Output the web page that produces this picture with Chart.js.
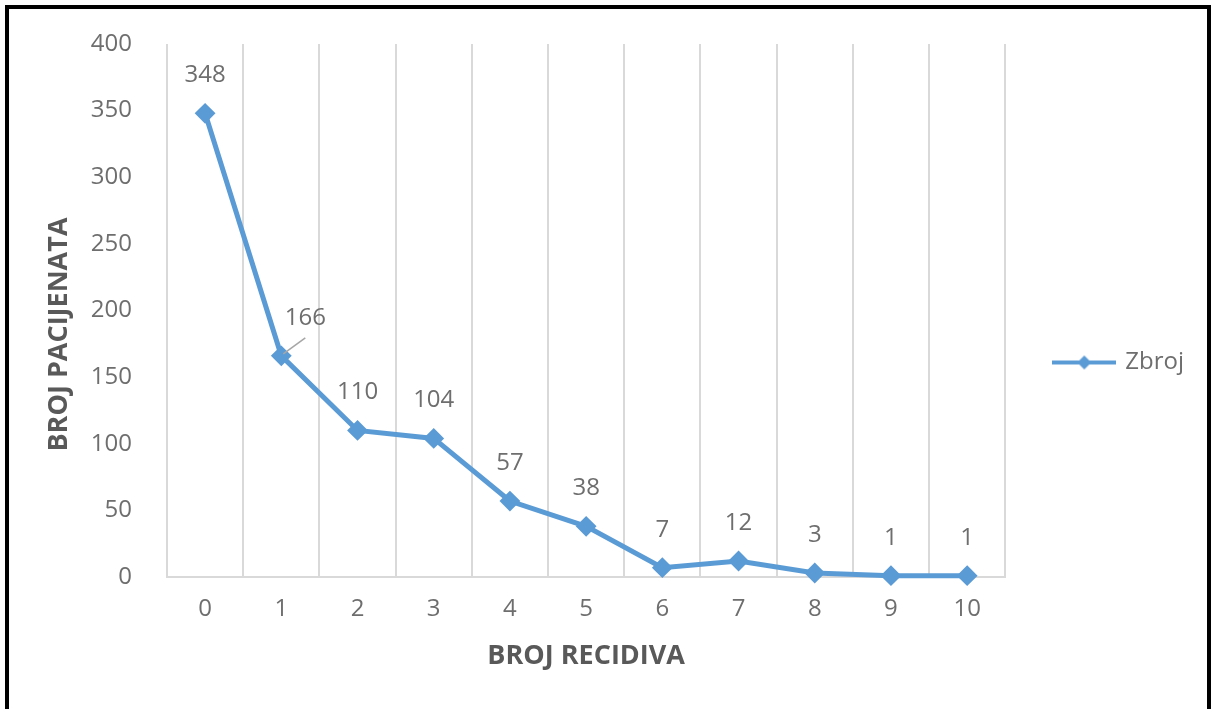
<!DOCTYPE html>
<html>
<head>
<meta charset="utf-8">
<script src="https://cdn.jsdelivr.net/npm/chart.js@4/dist/chart.umd.min.js"></script>
<style>
    html, body { margin: 0; padding: 0; background: #fff; }
    #frame {
        position: absolute; left: 5px; top: 5px; width: 1198px; height: 720px;
        border: 4px solid #000; border-bottom: none;
    }
    #wrap { position: absolute; left: 0; top: 0; width: 1215px; height: 709px; }
</style>
</head>
<body>
<div id="frame"></div>
<div id="wrap"><canvas id="chart"></canvas></div>
<script>
// chart data
const categories = ["0", "1", "2", "3", "4", "5", "6", "7", "8", "9", "10"];
const zbroj = [348, 166, 110, 104, 57, 38, 7, 12, 3, 1, 1];
const yTicks = [0, 50, 100, 150, 200, 250, 300, 350, 400];

const blue = "#5b9bd5";
const grey = "#595959";
const lightGrey = "#6e6e6e";
const gridGrey = "#d9d9d9";
const fontFamily = "'Open Sans', 'DejaVu Sans', sans-serif";
const yTitle = "BROJ PACIJENATA";

// legend symbol: short line with a small diamond in the middle
function legendSymbol() {
    const c = document.createElement("canvas");
    c.width = 64;
    c.height = 20;
    const g = c.getContext("2d");
    g.strokeStyle = blue;
    g.lineWidth = 4;
    g.beginPath();
    g.moveTo(0, 10);
    g.lineTo(64, 10);
    g.stroke();
    g.fillStyle = blue;
    g.beginPath();
    g.moveTo(32, 3);
    g.lineTo(39, 10);
    g.lineTo(32, 17);
    g.lineTo(25, 10);
    g.closePath();
    g.fill();
    return c;
}

// value labels above each point (label 1 is pushed right with a leader line)
const valueLabels = {
    id: "valueLabels",
    afterDatasetsDraw(chart) {
        const ctx = chart.ctx;
        const meta = chart.getDatasetMeta(0);
        const values = chart.data.datasets[0].data;
        ctx.save();
        ctx.font = "24px " + fontFamily;
        ctx.fillStyle = lightGrey;
        ctx.textAlign = "center";
        ctx.textBaseline = "middle";
        meta.data.forEach((pt, i) => {
            let x = pt.x;
            const y = pt.y - 38;
            if (i === 1) {
                x += 24;
                ctx.strokeStyle = "#a6a6a6";
                ctx.lineWidth = 1.5;
                ctx.beginPath();
                ctx.moveTo(pt.x + 2, pt.y - 2);
                ctx.lineTo(x, y + 20);
                ctx.stroke();
            }
            ctx.fillText(String(values[i]), x, y);
        });
        ctx.restore();
    }
};

// y axis title, sitting a little below the middle of the axis like the original
const yAxisTitle = {
    id: "yAxisTitle",
    afterDraw(chart) {
        const ctx = chart.ctx;
        const area = chart.chartArea;
        ctx.save();
        ctx.translate(chart.scales.y.left + 59, (area.top + area.bottom) / 2 + 24);
        ctx.rotate(-Math.PI / 2);
        ctx.font = "bold 27px " + fontFamily;
        ctx.fillStyle = grey;
        ctx.textAlign = "center";
        ctx.textBaseline = "middle";
        ctx.fillText(yTitle, 0, 0);
        ctx.restore();
    }
};

const ctx = document.getElementById("chart").getContext("2d");

window.myChart = new Chart(ctx, {
    type: "line",
    data: {
        labels: categories,
        datasets: [{
            label: "Zbroj",
            data: zbroj,
            borderColor: blue,
            backgroundColor: blue,
            borderWidth: 5,
            tension: 0,
            pointStyle: "rectRot",
            pointRadius: 9,
            pointBorderWidth: 2,
            pointBackgroundColor: blue,
            pointBorderColor: blue,
            clip: false
        }]
    },
    options: {
        responsive: true,
        maintainAspectRatio: false,
        animation: false,
        layout: { padding: { top: 44, right: 21, bottom: 28, left: 0 } },
        plugins: {
            tooltip: { enabled: false },
            legend: {
                position: "right",
                labels: {
                    usePointStyle: true,
                    pointStyle: legendSymbol(),
                    pointStyleWidth: 58,
                    padding: 50,
                    color: lightGrey,
                    font: { family: fontFamily, size: 24 }
                }
            }
        },
        scales: {
            x: {
                offset: true,
                grid: { offset: true, color: gridGrey, lineWidth: 2, drawTicks: false },
                border: { color: gridGrey, width: 2 },
                ticks: {
                    color: lightGrey, padding: 18, autoSkip: false, maxRotation: 0,
                    font: { family: fontFamily, size: 24 }
                },
                title: {
                    display: true,
                    text: "BROJ RECIDIVA",
                    color: grey,
                    padding: { top: 0, bottom: 8 },
                    font: { family: fontFamily, size: 27, weight: "bold" }
                },
                afterFit(scale) { scale.height = 104; }
            },
            y: {
                min: 0,
                max: 400,
                grid: { display: false },
                border: { display: false },
                afterBuildTicks(scale) { scale.ticks = yTicks.map(v => ({ value: v })); },
                ticks: {
                    color: lightGrey, padding: 27,
                    font: { family: fontFamily, size: 24 }
                },
                afterFit(scale) { scale.width = 167; }
            }
        }
    },
    plugins: [valueLabels, yAxisTitle]
});
</script>
</body>
</html>
